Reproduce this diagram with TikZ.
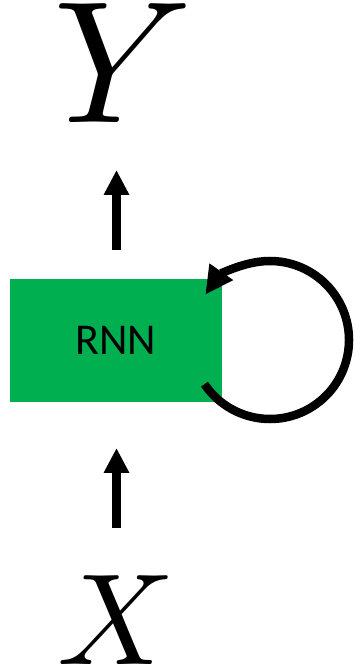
\documentclass[tikz,border=0pt]{standalone}
\usepackage{fontspec}
\usepackage{graphicx}
\newfontfamily\calib{Carlito}
\usetikzlibrary{arrows.meta}
\definecolor{rnngreen}{HTML}{00B050}
\tikzset{
  arr/.style={line width=8.5pt,-{Triangle[length=25pt,width=24pt]}},
  looparr/.style={line width=8.5pt,-{Triangle[length=28pt,width=27pt]}},
  rnnbox/.style={fill=rnngreen,draw=none,minimum width=212pt,minimum height=123pt,inner sep=0pt,font=\calib\fontsize{44}{44}\selectfont},
  bigvar/.style={inner sep=0pt}
}
\begin{document}
\begin{tikzpicture}[x=1pt,y=1pt]
\useasboundingbox (0,0) rectangle (354,669);
\node[rnnbox] (rnn) at (116,328.5) {RNN};
\node[bigvar,anchor=base] (y) at (123,546) {\scalebox{17.4}{$Y$}};
\node[bigvar,anchor=base] (x) at (116,5) {\scalebox{13}{$X$}};
\coordinate (ys) at (116.5,419);
\coordinate (ye) at (116.5,499);
\coordinate (xs) at (116.5,141);
\coordinate (xe) at (116.5,221);
\draw[arr] (ys) -- (ye);
\draw[arr] (xs) -- (xe);
\coordinate (lc) at (270,329);
\draw[looparr] ([shift={(214:79)}]lc) arc[start angle=214,end angle=505,radius=79];
\end{tikzpicture}
\end{document}
